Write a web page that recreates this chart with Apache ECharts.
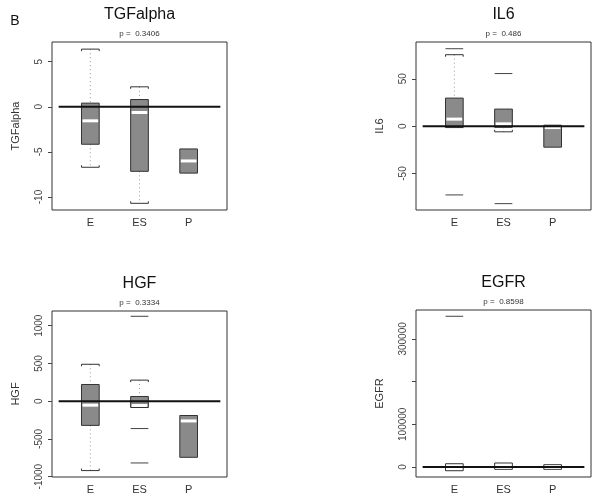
<!DOCTYPE html>
<html>
<head>
<meta charset="utf-8">
<script src="https://cdn.jsdelivr.net/npm/echarts@6/dist/echarts.min.js"></script>
<style>html,body{margin:0;padding:0;background:#fff}#c{width:600px;height:501px}</style>
</head>
<body>
<div id="c"></div>
<script>
// ---- data ----
const categories = ['E', 'ES', 'P'];
const panelTitles = ['TGFalpha', 'IL6', 'HGF', 'EGFR'];
const pValues = ['0.3406', '0.486', '0.3334', '0.8598'];
// stats per group: [lower whisker, q1, median, q3, upper whisker]
const tgfStats = [[-6.7, -4.15, -1.55, 0.41, 6.4], [-10.7, -7.15, -0.63, 0.81, 2.22], [-7.35, -7.35, -6.0, -4.67, -4.67]];
const tgfOutliers = [];
const il6Stats = [[-1.5, -1.5, 7.4, 29.6, 75.4], [-6.0, -1.2, 2.4, 18.0, 18.0], [-22.2, -22.2, -1.5, 1.0, 1.0]];
const il6Outliers = [[0, 81.7], [0, -72.6], [1, 55.5], [1, -81.8]];
const hgfStats = [[-920, -321, -53, 221, 489], [-84, -84, -57, 62, 279], [-744, -744, -262, -190, -190]];
const hgfOutliers = [[1, 1125], [1, -363], [1, -819]];
const egfrStats = [[-8700, -8700, 0, 7700, 7700], [-5400, -5400, 0, 9400, 9400], [-5400, -5400, 0, 5400, 5400]];
const egfrOutliers = [[0, 353000]];
const refValue = 0;
// axis ranges and ticks
const yMins = [-11.44, -88.5, -1005, -23400];
const yMaxs = [7.19, 88.8, 1195, 367700];
const yTicks = [[-10, -5, 0, 5], [-50, 0, 50], [-1000, -500, 0, 500, 1000], [0, 100000, 200000, 300000]];
const yTickLabels = [[-10, -5, 0, 5], [-50, 0, 50], [-1000, -500, 0, 500, 1000], [0, 100000, 300000]];

const allStats = [tgfStats, il6Stats, hgfStats, egfrStats];
const allOutliers = [tgfOutliers, il6Outliers, hgfOutliers, egfrOutliers];

// ---- layout / style ----
const grids = [
  {left: 52, top: 42, width: 175, height: 168},
  {left: 416, top: 42, width: 175, height: 168},
  {left: 52, top: 311, width: 175, height: 166},
  {left: 416, top: 310, width: 175, height: 167}
];
const boxFills = ['#8a8a8a', '#8a8a8a', '#8a8a8a', '#ffffff'];
const HW = 0.18;

function makeBoxRender(fill) {
  return function (params, api) {
    const x = api.value(0), lo = api.value(1), q1 = api.value(2), md = api.value(3), q3 = api.value(4), hi = api.value(5);
    const tl = api.coord([x - HW, q3]);
    const br = api.coord([x + HW, q1]);
    const c = api.coord([x, md]);
    const children = [];
    const cx = (tl[0] + br[0]) / 2;
    if (hi > q3) {
      const yh = api.coord([x, hi])[1];
      children.push({type: 'line', shape: {x1: cx, y1: yh, x2: cx, y2: tl[1]}, style: {stroke: '#999', lineWidth: 1, lineDash: [1, 3]}});
      children.push({type: 'polyline', shape: {points: [[tl[0], yh + 2], [tl[0], yh], [br[0], yh], [br[0], yh + 2]]}, style: {stroke: '#333', lineWidth: 1, fill: null}});
    }
    if (lo < q1) {
      const yl = api.coord([x, lo])[1];
      children.push({type: 'line', shape: {x1: cx, y1: br[1], x2: cx, y2: yl}, style: {stroke: '#999', lineWidth: 1, lineDash: [1, 3]}});
      children.push({type: 'polyline', shape: {points: [[tl[0], yl - 2], [tl[0], yl], [br[0], yl], [br[0], yl - 2]]}, style: {stroke: '#333', lineWidth: 1, fill: null}});
    }
    children.push({type: 'rect', shape: {x: tl[0], y: tl[1], width: br[0] - tl[0], height: br[1] - tl[1]}, style: {fill: fill, stroke: '#333', lineWidth: 1}});
    children.push({type: 'line', shape: {x1: tl[0] + 1, y1: c[1], x2: br[0] - 1, y2: c[1]}, style: {stroke: '#fff', lineWidth: 3}});
    return {type: 'group', children: children};
  };
}
function outlierRender(params, api) {
  const x = api.value(0), v = api.value(1);
  const a = api.coord([x - HW, v]), b = api.coord([x + HW, v]);
  return {type: 'line', shape: {x1: a[0], y1: a[1], x2: b[0], y2: b[1]}, style: {stroke: '#444', lineWidth: 1}};
}
function refRender(params, api) {
  const v = api.value(0);
  const a = api.coord([1 - 0.645, v]), b = api.coord([categories.length + 0.645, v]);
  return {type: 'line', shape: {x1: a[0], y1: a[1], x2: b[0], y2: b[1]}, style: {stroke: '#111', lineWidth: 2}};
}

const xAxes = [], yAxes = [], series = [], graphics = [];
grids.forEach((g, i) => {
  xAxes.push({
    type: 'value', gridIndex: i, min: 0.22, max: 3.78,
    axisLine: {show: false}, splitLine: {show: false},
    axisTick: {show: false},
    axisLabel: {
      customValues: categories.map((c, k) => k + 1),
      formatter: v => categories[Math.round(v) - 1] || '',
      fontFamily: 'Liberation Sans', fontSize: 11, color: '#333', margin: 7
    }
  });
  yAxes.push({
    type: 'value', gridIndex: i, min: yMins[i], max: yMaxs[i],
    name: panelTitles[i], nameLocation: 'middle', nameRotate: 90, nameGap: 31,
    nameTextStyle: {fontFamily: 'Liberation Sans', fontSize: 11, color: '#333'},
    axisLine: {show: false}, splitLine: {show: false},
    axisTick: {show: true, inside: false, length: 4, lineStyle: {color: '#444'}, customValues: yTicks[i]},
    axisLabel: {
      customValues: yTickLabels[i], rotate: 90, margin: 8,
      formatter: v => String(v),
      fontFamily: 'Liberation Sans', fontSize: 10, color: '#444'
    }
  });
  series.push({
    type: 'custom', xAxisIndex: i, yAxisIndex: i,
    renderItem: makeBoxRender(boxFills[i]),
    data: allStats[i].map((s, k) => [k + 1].concat(s)),
    encode: {x: 0, y: [1, 2, 3, 4, 5]}
  });
  series.push({
    type: 'custom', xAxisIndex: i, yAxisIndex: i,
    renderItem: outlierRender,
    data: allOutliers[i].map(o => [o[0] + 1, o[1]]),
    encode: {x: 0, y: 1}
  });
  series.push({
    type: 'custom', xAxisIndex: i, yAxisIndex: i,
    renderItem: refRender,
    data: [[refValue]],
    encode: {y: 0}
  });
  const cx = g.left + g.width / 2;
  graphics.push({type: 'text', x: cx, y: g.top - 27, style: {text: panelTitles[i], font: '16px "Liberation Sans"', fill: '#111', textAlign: 'center', textVerticalAlign: 'middle'}});
  graphics.push({type: 'text', x: cx, y: g.top - 8, style: {text: 'p =  ' + pValues[i], font: '8px "Liberation Sans"', fill: '#333', textAlign: 'center', textVerticalAlign: 'middle'}});
});
graphics.push({type: 'text', x: 15, y: 21, style: {text: 'B', font: '14px "Liberation Sans"', fill: '#111', textAlign: 'center', textVerticalAlign: 'middle'}});

const chart = echarts.init(document.getElementById('c'), null, {renderer: 'canvas'});
chart.setOption({
  backgroundColor: '#fff',
  animation: false,
  grid: grids.map(g => Object.assign({show: true, borderColor: '#333', borderWidth: 1, backgroundColor: 'transparent'}, g)),
  xAxis: xAxes,
  yAxis: yAxes,
  series: series,
  graphic: graphics
});
</script>
</body>
</html>
